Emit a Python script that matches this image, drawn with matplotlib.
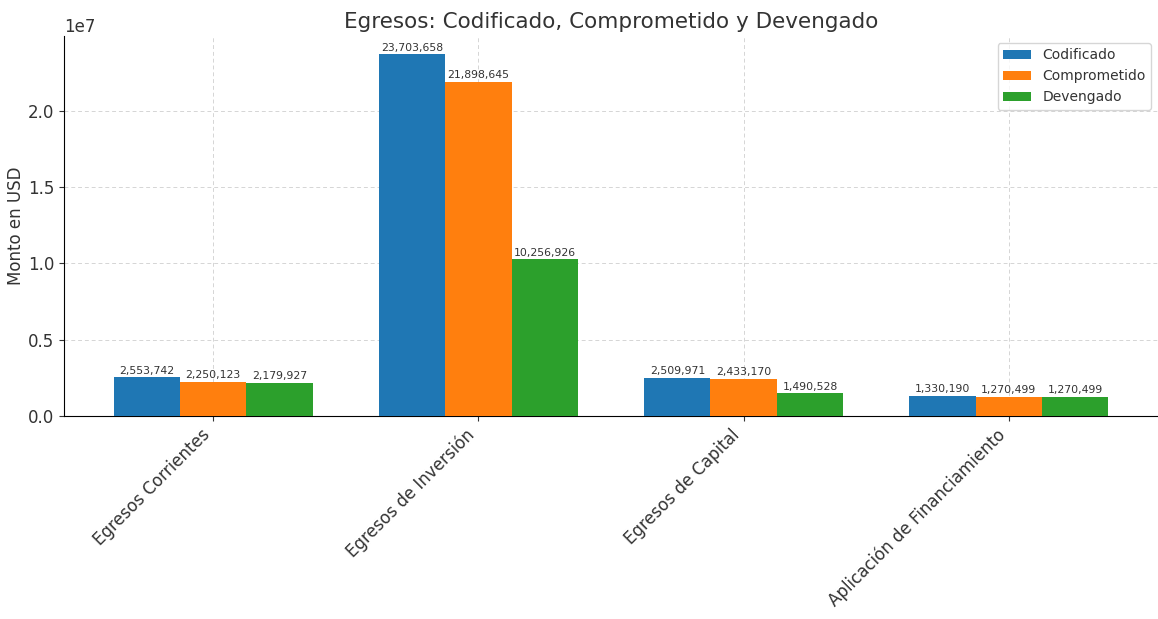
import matplotlib
matplotlib.use("Agg")
import matplotlib.pyplot as plt
import numpy as np

categories = ["Egresos Corrientes", "Egresos de Inversión", "Egresos de Capital",
              "Aplicación de Financiamiento"]
codificado = [2553742, 23703658, 2509971, 1330190]
comprometido = [2250123, 21898645, 2433170, 1270499]
devengado = [2179927, 10256926, 1490528, 1270499]

series = {"Codificado": codificado, "Comprometido": comprometido, "Devengado": devengado}
colors = ["#1f77b4", "#ff7f0e", "#2ca02c"]
text_color = "#333333"

plt.rcParams["font.family"] = "DejaVu Sans"
plt.rcParams["text.color"] = text_color
plt.rcParams["axes.labelcolor"] = text_color
plt.rcParams["xtick.color"] = text_color
plt.rcParams["ytick.color"] = text_color

fig = plt.figure(figsize=(11.58, 6.19), dpi=100)
ax = fig.add_axes([0.0553, 0.328, 0.9447, 0.614])

width = 0.25
x = np.arange(len(categories))
offsets = [-width, 0, width]

for (name, vals), off, col in zip(series.items(), offsets, colors):
    rects = ax.bar(x + off, vals, width, label=name, color=col, zorder=3)
    for rect in rects:
        h = rect.get_height()
        ax.annotate(f"{h:,.0f}", xy=(rect.get_x() + rect.get_width() / 2, h),
                    xytext=(0, 1), textcoords="offset points",
                    ha="center", va="bottom", fontsize=7.8, color=text_color)

ax.set_title("Egresos: Codificado, Comprometido y Devengado", fontsize=15.5, color=text_color)
ax.set_ylabel("Monto en USD", fontsize=12, labelpad=2)
ax.set_xticks(x)
ax.set_xticklabels(categories, rotation=45, ha="right", fontsize=12)
ax.tick_params(axis="y", labelsize=12)
ax.yaxis.get_offset_text().set_fontsize(12)
ax.grid(True, linestyle=(0, (4, 3)), color="#d5d5d5", linewidth=0.7, zorder=0)
ax.spines.right.set_visible(False)
ax.spines.top.set_visible(False)
ax.legend(fontsize=10, loc="upper right")

fig.savefig("out.png", dpi=100)
